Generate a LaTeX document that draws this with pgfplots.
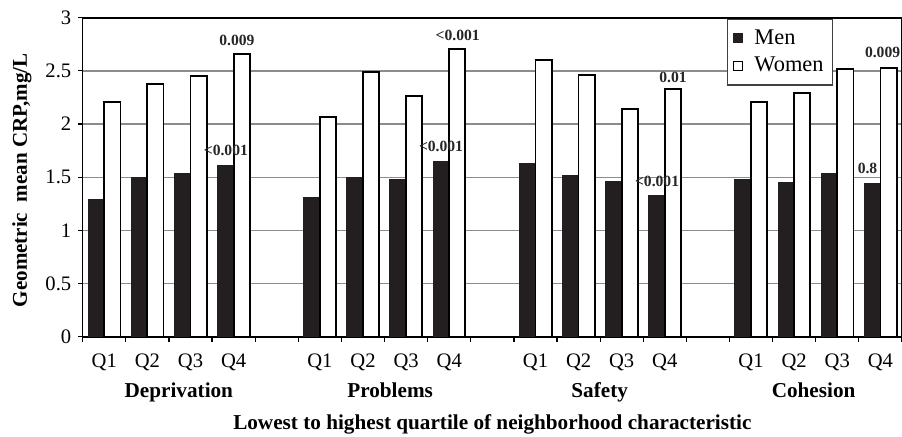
\documentclass[border=0pt]{standalone}
\usepackage{pgfplots}
\pgfplotsset{compat=1.18}
\usepackage{fontspec}
\setmainfont{Liberation Serif}
\definecolor{barblack}{HTML}{231F20}
\definecolor{gridgray}{HTML}{8C8C8C}
\begin{document}
\fontsize{10pt}{12pt}\selectfont
\begin{tikzpicture}
\useasboundingbox (-41.35pt,-49.65pt) rectangle (409.65pt,168.35pt);
\begin{axis}[
  scale only axis, width=409.65pt, height=159.5pt,
  clip=false,
  xmin=-0.5, xmax=18.5, ymin=0, ymax=3,
  ybar=0pt, bar width=0.375,
  axis line style={black, line width=0.8pt},
  ytick={0,0.5,1,1.5,2,2.5,3},
  yticklabels={0,0.5,1,1.5,2,2.5,3},
  ymajorgrids, grid style={gridgray, line width=0.7pt},
  xtick={0,1,2,3,5,6,7,8,10,11,12,13,15,16,17,18},
  xticklabels={Q1,Q2,Q3,Q4,Q1,Q2,Q3,Q4,Q1,Q2,Q3,Q4,Q1,Q2,Q3,Q4},
  minor xtick={-0.5,0.5,...,18.5},
  tick align=outside,
  major x tick style={draw=none},
  minor x tick style={black, line width=0.6pt},
  ytick style={black, line width=0.6pt},
  minor tick length=2.6pt, major tick length=2.2pt,
  xtick pos=bottom, ytick pos=left,
  /pgf/number format/assume math mode=true,
  tick label style={font=\fontsize{10.3pt}{12pt}\selectfont},
  xticklabel style={anchor=base, yshift=-13.4pt},
  xlabel={\textbf{Lowest to highest quartile of neighborhood characteristic}},
  xlabel style={at={(rel axis cs:0.5,0)}, anchor=base, yshift=-46.2pt, font=\fontsize{10.6pt}{12pt}\selectfont},
  ylabel={\textbf{Geometric\ \ mean CRP,mg/L}},
  ylabel style={at={([xshift=-30.35pt]rel axis cs:0,0.49)}, anchor=center, font=\fontsize{10.5pt}{12pt}\selectfont},
  legend style={at={(rel axis cs:0.916,0.996)}, anchor=north east, draw=black!75, line width=0.6pt,
    font=\fontsize{11.2pt}{12pt}\selectfont, fill=white, row sep=1pt, inner xsep=2.5pt, inner ysep=3pt},
  legend image code/.code={\path (0pt,0pt) (8pt,0pt); \draw[#1, line width=0.5pt] (0pt,-2.25pt) rectangle (4.5pt,2.25pt);},
  legend cell align=left,
]
% Men
\addplot[fill=barblack, draw=barblack, line width=0.5pt] coordinates {
  (0,1.295) (1,1.495) (2,1.533) (3,1.614)
  (5,1.313) (6,1.495) (7,1.483) (8,1.652)
  (10,1.633) (11,1.520) (12,1.464) (13,1.326)
  (15,1.483) (16,1.451) (17,1.533) (18,1.445)
};
% Women
\addplot[fill=white, draw=black, line width=0.9pt] coordinates {
  (0,2.21) (1,2.38) (2,2.455) (3,2.655)
  (5,2.063) (6,2.486) (7,2.263) (8,2.705)
  (10,2.602) (11,2.461) (12,2.144) (13,2.332)
  (15,2.21) (16,2.292) (17,2.52) (18,2.527)
};
\legend{Men,Women}
\tikzset{pv/.style={font=\bfseries\fontsize{7.8pt}{9pt}\selectfont, text=black!85, inner sep=0pt, anchor=center}}
\node[pv] at (axis cs:3.076,2.79) {0.009};
\node[pv] at (axis cs:2.82,1.749) {<0.001};
\node[pv] at (axis cs:8.197,2.837) {<0.001};
\node[pv] at (axis cs:7.81,1.793) {<0.001};
\node[pv] at (axis cs:13.19,2.436) {0.01};
\node[pv] at (axis cs:12.82,1.464) {<0.001};
\node[pv] at (axis cs:17.70,1.586) {0.8};
\node[pv] at (axis cs:18.05,2.67) {0.009};
\tikzset{gl/.style={font=\bfseries\fontsize{10.6pt}{12pt}\selectfont, anchor=base, yshift=-30.5pt}}
\node[gl] at (axis cs:1.73,0) {Deprivation};
\node[gl] at (axis cs:6.63,0) {Problems};
\node[gl] at (axis cs:11.49,0) {Safety};
\node[gl] at (axis cs:16.45,0) {Cohesion};
\end{axis}
\end{tikzpicture}
\end{document}
